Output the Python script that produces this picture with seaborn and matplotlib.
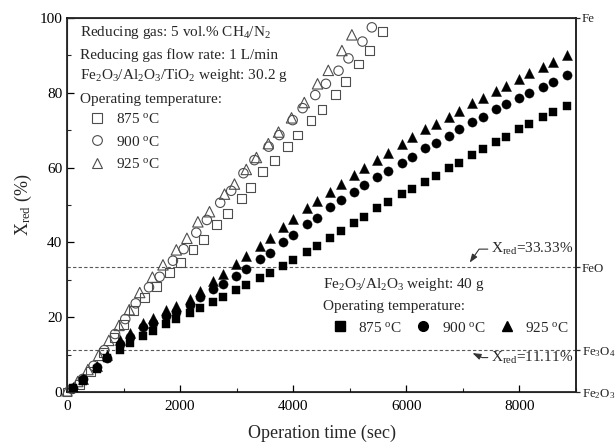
import numpy as np
import pandas as pd
import matplotlib
matplotlib.use("Agg")
import matplotlib.pyplot as plt
from matplotlib.lines import Line2D
from matplotlib.ticker import MultipleLocator
import seaborn as sns

# Fe2O3/Al2O3/TiO2 (30.2 g) runs, open markers
t_open_875 = [0, 220, 420, 640, 830, 1000, 1180, 1374, 1580, 1815, 2003, 2226, 2415, 2649,
              2832, 3079, 3238, 3460, 3667, 3901, 4078, 4314, 4508, 4743, 4919, 5153, 5342, 5577]
x_open_875 = [0.0, 2.0, 5.5, 10.5, 14.5, 18.0, 21.8, 25.3, 28.3, 31.9, 34.6, 38.0, 40.8, 44.8,
              47.8, 51.7, 54.7, 58.9, 61.8, 65.6, 68.7, 72.5, 75.6, 79.6, 83.0, 87.7, 91.3, 96.3]
t_open_900 = [90, 280, 470, 660, 850, 1030, 1215, 1450, 1638, 1873, 2062, 2286, 2473, 2709,
              2903, 3120, 3314, 3566, 3755, 3990, 4166, 4390, 4578, 4801, 4977, 5224, 5390]
x_open_900 = [0.8, 3.5, 7.0, 11.2, 15.5, 19.5, 23.7, 28.0, 30.8, 35.1, 38.2, 42.6, 46.0, 50.6,
              53.8, 58.5, 62.0, 65.6, 68.7, 72.7, 75.9, 79.4, 82.4, 85.9, 89.2, 93.7, 97.5]
t_open_925 = [0, 190, 370, 560, 740, 920, 1100, 1286, 1510, 1697, 1933, 2120, 2314, 2520,
              2785, 2961, 3170, 3350, 3560, 3740, 3970, 4196, 4430, 4620, 4861, 5037]
x_open_925 = [0.3, 2.8, 6.0, 9.8, 13.8, 17.8, 22.0, 26.6, 30.7, 34.0, 38.0, 41.1, 45.5, 48.2,
              52.9, 55.6, 59.5, 62.7, 66.4, 69.5, 73.3, 77.4, 82.4, 86.0, 91.3, 95.5]

# Fe2O3/Al2O3 (40 g) runs, filled markers, shared sampling times
t_filled = [113, 289, 524, 700, 935, 1111, 1346, 1522, 1757, 1933, 2168, 2344, 2579, 2755,
            2991, 3167, 3414, 3591, 3825, 4002, 4237, 4413, 4649, 4843, 5077, 5254, 5488, 5682,
            5919, 6095, 6330, 6519, 6748, 6925, 7164, 7353, 7587, 7764, 8000, 8176, 8410, 8587, 8840]
x_filled_875 = [1.0, 3.0, 6.2, 9.0, 11.2, 13.0, 15.1, 16.4, 18.2, 19.4, 21.2, 22.5, 24.1, 25.3,
                27.3, 28.6, 30.4, 31.7, 33.7, 35.3, 37.5, 39.0, 41.1, 43.0, 45.3, 46.9, 49.1, 50.7,
                52.9, 54.2, 56.2, 57.8, 59.8, 61.3, 63.4, 64.9, 66.8, 68.3, 70.2, 71.6, 73.4, 74.9, 76.5]
x_filled_900 = [1.2, 3.4, 6.6, 9.2, 12.8, 14.6, 17.3, 18.5, 20.4, 21.5, 23.3, 25.5, 27.5, 29.0,
                31.0, 32.8, 35.5, 37.2, 40.2, 42.0, 44.9, 46.6, 49.4, 51.3, 53.6, 55.3, 57.6, 59.2,
                61.1, 62.9, 65.2, 66.5, 68.5, 70.2, 72.1, 73.6, 75.6, 76.9, 78.5, 80.0, 81.6, 83.0, 84.8]
x_filled_925 = [1.4, 3.6, 7.0, 10.0, 13.9, 15.8, 18.5, 19.8, 21.8, 23.0, 24.8, 27.0, 29.8, 31.6,
                34.2, 36.4, 39.0, 41.1, 44.2, 46.2, 49.1, 51.2, 53.6, 55.6, 58.0, 60.0, 61.9, 63.8,
                66.3, 68.1, 70.2, 71.7, 73.6, 75.2, 77.2, 78.5, 80.6, 81.8, 83.7, 85.2, 87.0, 88.3, 90.1]

temps = ["875", "900", "925"]
open_markers = ["s", "o", "^"]
open_sizes = [40, 46, 56]
filled_sizes = [36, 44, 52]

# Reduction-stage reference levels
phase_levels = [0, 11.11, 33.33, 100]
phase_labels = ["Fe$_2$O$_3$", "Fe$_3$O$_4$", "FeO", "Fe"]

sns.set_style("ticks")
plt.rcParams["font.family"] = ["Liberation Serif", "DejaVu Serif"]
plt.rcParams["mathtext.fontset"] = "custom"
plt.rcParams["mathtext.rm"] = "Liberation Serif"
plt.rcParams["mathtext.it"] = "Liberation Serif:italic"
plt.rcParams["mathtext.default"] = "regular"

fig = plt.figure(figsize=(6.16, 4.44), dpi=100)
ax = fig.add_axes([67 / 616, 1 - 392 / 444, 509 / 616, 374 / 444])

open_sets = [(t_open_875, x_open_875), (t_open_900, x_open_900), (t_open_925, x_open_925)]
filled_sets = [x_filled_875, x_filled_900, x_filled_925]

for (tt, xx), mk, sz in zip(open_sets, open_markers, open_sizes):
    df = pd.DataFrame({"t": tt, "x": xx})
    sns.scatterplot(data=df, x="t", y="x", marker=mk, s=sz, facecolor="none",
                    edgecolor="0.3", linewidth=0.8, ax=ax, clip_on=False, zorder=3)

for xx, mk, sz in zip(filled_sets, open_markers, filled_sizes):
    df = pd.DataFrame({"t": t_filled, "x": xx})
    sns.scatterplot(data=df, x="t", y="x", marker=mk, s=sz, color="black",
                    edgecolor="black", linewidth=0.3, ax=ax, clip_on=False, zorder=3)

for lvl in phase_levels[1:3]:
    ax.axhline(lvl, color="0.35", lw=0.8, ls=(0, (3, 2)), zorder=1)

ax.set_xlim(0, 9000)
ax.set_ylim(0, 100)
ax.xaxis.set_major_locator(MultipleLocator(2000))
ax.xaxis.set_minor_locator(MultipleLocator(1000))
ax.yaxis.set_major_locator(MultipleLocator(20))
ax.yaxis.set_minor_locator(MultipleLocator(10))
ax.tick_params(axis="both", which="major", direction="in", length=5, width=0.9,
               labelsize=11, colors="black", top=False, right=False)
ax.tick_params(axis="both", which="minor", direction="in", length=3, width=0.8,
               top=False, right=False)
ax.tick_params(axis="x", pad=6)
for sp in ax.spines.values():
    sp.set_visible(True)
    sp.set_linewidth(1.1)
    sp.set_color("black")

ax.set_xlabel("Operation time (sec)", fontsize=13, labelpad=8)
ax.set_ylabel("X$_{red}$ (%)", fontsize=13, labelpad=4)

# Phase labels on the right
ax2 = ax.twinx()
ax2.set_ylim(0, 100)
ax2.set_yticks(phase_levels)
ax2.set_yticklabels(phase_labels, fontsize=9.3)
ax2.tick_params(axis="y", direction="out", length=3, width=0.9, pad=1)
ax2.spines["right"].set_linewidth(1.1)

# Conversion annotations at the phase boundaries
ax.annotate("", xy=(7120, 34.6), xytext=(7440, 38.2),
            arrowprops=dict(arrowstyle="-|>,head_length=0.5,head_width=0.18", color="0.2",
                            lw=0.8, connectionstyle="angle,angleA=0,angleB=55,rad=0",
                            shrinkA=0, shrinkB=0))
ax.text(7490, 38.2, "X$_{red}$=33.33%", fontsize=11, va="center", ha="left")
ax.annotate("", xy=(7170, 10.4), xytext=(7440, 9.2),
            arrowprops=dict(arrowstyle="-|>,head_length=0.5,head_width=0.18", color="0.2",
                            lw=0.8, connectionstyle="angle,angleA=0,angleB=-25,rad=0",
                            shrinkA=0, shrinkB=0))
ax.text(7490, 9.2, "X$_{red}$=11.11%", fontsize=11, va="center", ha="left")

# Upper-left legend block (TiO2-supported carrier)
info_top = ["Reducing gas: 5 vol.% CH$_4$/N$_2$",
            "Reducing gas flow rate: 1 L/min",
            "Fe$_2$O$_3$/Al$_2$O$_3$/TiO$_2$ weight: 30.2 g",
            "Operating temperature:"]
for txt, yy in zip(info_top, [0.962, 0.902, 0.845, 0.783]):
    ax.text(0.026, yy, txt, transform=ax.transAxes, fontsize=11, va="center", ha="left")

open_handles = [Line2D([], [], ls="none", marker=m, ms=7, mfc="none", mec="0.3", mew=0.8)
                for m in open_markers]
leg1 = ax.legend(open_handles, [f"{t} $^o$C" for t in temps], loc="upper left",
                 bbox_to_anchor=(0.037, 0.748), frameon=False, fontsize=11,
                 handletextpad=0.6, labelspacing=0.55, borderaxespad=0, borderpad=0,
                 handlelength=1.4)
ax.add_artist(leg1)

# Lower-right legend block (Al2O3-supported carrier)
ax.text(0.503, 0.287, "Fe$_2$O$_3$/Al$_2$O$_3$ weight: 40 g", transform=ax.transAxes,
        fontsize=11, va="center", ha="left")
ax.text(0.503, 0.229, "Operating temperature:", transform=ax.transAxes,
        fontsize=11, va="center", ha="left")
filled_handles = [Line2D([], [], ls="none", marker=m, ms=7, mfc="black", mec="black")
                  for m in open_markers]
ax.legend(filled_handles, [f"{t} $^o$C" for t in temps], loc="center left",
          bbox_to_anchor=(0.515, 0.172), frameon=False, fontsize=11, ncol=3,
          handletextpad=0.5, columnspacing=0.7, borderaxespad=0, borderpad=0,
          handlelength=1.4)

fig.savefig("out.png", dpi=100)
